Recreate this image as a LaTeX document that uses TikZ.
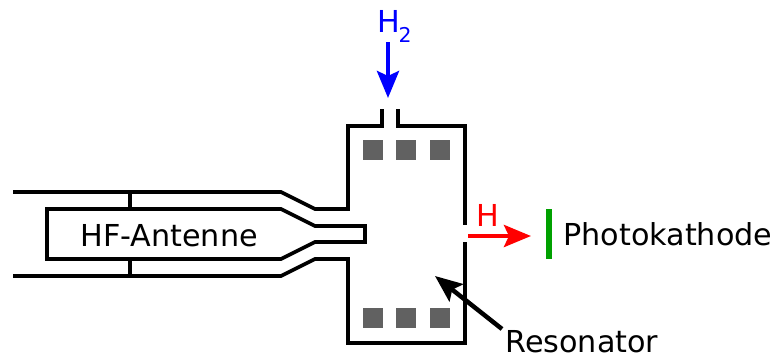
\documentclass[tikz,border=0pt]{standalone}
\usepackage{fontspec}
\setmainfont{DejaVu Sans}
\usetikzlibrary{arrows.meta, positioning}

\begin{document}
\begin{tikzpicture}[x=0.02cm, y=-0.02cm,
    wall/.style={line width=0.072cm, line join=miter, draw=black},
    coil/.style={rectangle, fill=black!62, minimum size=0.4cm, inner sep=0pt},
    label/.style={font=\fontsize{17.2}{20}\selectfont, inner sep=0pt},
    arrow/.style={line width=0.09cm, -{Stealth[length=0.54cm, width=0.44cm, inset=0.1cm]}}]
    \useasboundingbox (0,0) rectangle (771,356);

    % Outer conductor and resonator
    \draw [wall] (13,192) -- (281,192) -- (315,209) -- (348,209) -- (348,126) -- (382,126) -- (382,109);
    \draw [wall] (398,109) -- (398,126) -- (465,126) -- (465,225);
    \draw [wall] (465,242) -- (465,343) -- (348,343) -- (348,259) -- (315,259) -- (281,276) -- (13,276);

    % Antenna
    \draw [wall] (47,209) -- (281,209) -- (315,226) -- (365,226) -- (365,242) -- (315,242) -- (281,259) -- (47,259) -- cycle;
    \draw [wall] (130,192) -- (130,209);
    \draw [wall] (130,259) -- (130,276);

    % Coils
    \node [coil] (coil1) at (373,150) {};
    \node [coil] (coil2) at (406,150) {};
    \node [coil] (coil3) at (440,150) {};
    \node [coil] (coil4) at (373,318) {};
    \node [coil] (coil5) at (406,318) {};
    \node [coil] (coil6) at (440,318) {};

    % Detector
    \node [rectangle, fill=green!63!black, minimum width=0.13cm, minimum height=1cm, inner sep=0pt] (kathode) at (549,234) {};

    % Labels
    \node [label, blue, anchor=base west] (h2) at (377,32) {H\kern-0.8pt\raisebox{-5.7pt}{\fontsize{11.6}{14}\selectfont 2}};
    \node [label, red] (h) at (488,215) {H};
    \node [label, anchor=base west] (antenne) at (80,246) {HF-Antenne};
    \node [label, anchor=base west] (photo) at (563,245) {Photokathode};
    \node [label, anchor=base west] (resonator) at (505,352) {Resonator};

    % Arrows
    \coordinate (h2start) at (388,42);
    \coordinate (h2end) at (388,98);
    \coordinate (hstart) at (468,236);
    \coordinate (hend) at (531,236);
    \coordinate (resostart) at (502,329);
    \coordinate (resoend) at (435,276);
    \draw [arrow, blue] (h2start) -- (h2end);
    \draw [arrow, red] (hstart) -- (hend);
    \draw [arrow, black] (resostart) -- (resoend);
\end{tikzpicture}
\end{document}
